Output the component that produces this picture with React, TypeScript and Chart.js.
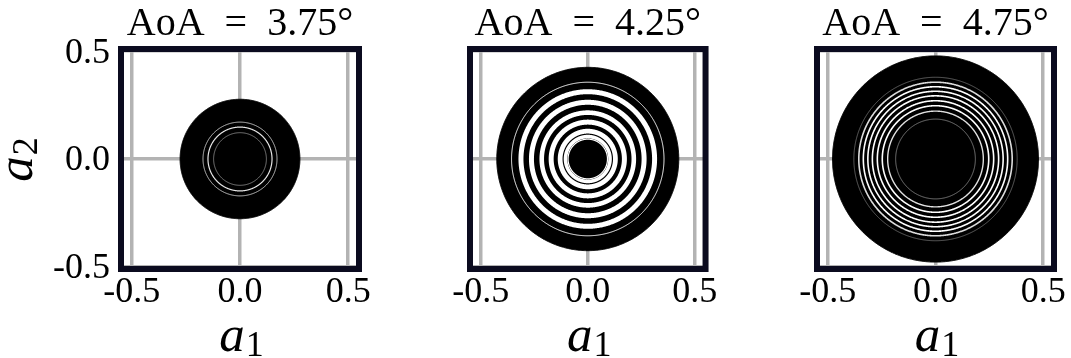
import React, { useEffect, useRef } from 'react';
import { Chart, registerables } from 'chart.js';

Chart.register(...registerables);

// ---------- data ----------
const panelTitles = ['AoA\u2002=\u20023.75°', 'AoA\u2002=\u20024.25°', 'AoA\u2002=\u20024.75°'];
const tickValues = [-0.5, 0, 0.5];
const tickLabels = ['-0.5', '0.0', '0.5'];
const xRange = [-0.55, 0.55];
const yRange = [-0.51, 0.51];
// outer radius of the limit-cycle (black disk) in each panel
const limitCycleRadius = [0.277, 0.425, 0.478];
// radii of the white gaps between spiral turns
const gapRadiiA = [0.171, 0.148, 0.122];
const gapRadiiB = [0.356, 0.312, 0.263, 0.215, 0.171, 0.129, 0.104, 0.092];
const gapRadiiC = [0.379, 0.356, 0.335, 0.314, 0.293, 0.27, 0.247, 0.222, 0.185];
const xAxisLabel = ['a', '1'];
const yAxisLabel = ['a', '2'];

// ---------- styles ----------
const SERIF = '"Liberation Serif", "Times New Roman", serif';
const GRID = '#b3b3b3';
const FRAME = '#0b0b1f';
const gapWidthsA = [1, 1.2, 0.9];
const gapColorsA = ['#d0d0d0', '#e6e6e6', '#8c8c8c'];
const gapWidthsB = [1, 5, 5, 4.6, 5, 4.8, 3.6, 1.2, 0.8];
const gapColorsB = ['#ffffff', '#ffffff', '#ffffff', '#ffffff', '#ffffff', '#ffffff', '#ffffff', '#ffffff', '#9a9a9a'];
const gapWidthsC = [0.9, 1.6, 1.6, 1.6, 1.6, 1.6, 1.6, 1.4, 0.9];
const gapColorsC = ['#6a6a6a', '#dcdcdc', '#ffffff', '#ffffff', '#ffffff', '#ffffff', '#ffffff', '#e0e0e0', '#8a8a8a'];

const gapRadii = [gapRadiiA, gapRadiiB, gapRadiiC];
const gapWidths = [gapWidthsA, gapWidthsB, gapWidthsC];
const gapColors = [gapColorsA, gapColorsB, gapColorsC];

const panels = [
  { left: 0, width: 380, axisLeft: 121, padRight: 21, showY: true },
  { left: 380, width: 340, axisLeft: 90, padRight: 13, showY: false },
  { left: 720, width: 351, axisLeft: 97, padRight: 17, showY: false },
];

function ring(r: number) {
  const pts: { x: number; y: number }[] = [];
  const n = 360;
  for (let i = 0; i <= n; i++) {
    const t = (i / n) * 2 * Math.PI;
    pts.push({ x: r * Math.cos(t), y: r * Math.sin(t) });
  }
  return pts;
}

function labelFor(v: number) {
  const i = tickValues.findIndex((t) => Math.abs(t - v) < 1e-9);
  return i >= 0 ? tickLabels[i] : '';
}

function drawSubLabel(ctx: CanvasRenderingContext2D, parts: string[], cx: number, baseline: number) {
  ctx.font = `italic 51px ${SERIF}`;
  const wa = ctx.measureText(parts[0]).width;
  ctx.font = `36px ${SERIF}`;
  const w1 = ctx.measureText(parts[1]).width;
  const start = cx - (wa + w1) / 2;
  ctx.textBaseline = 'alphabetic';
  ctx.textAlign = 'left';
  ctx.font = `italic 51px ${SERIF}`;
  ctx.fillText(parts[0], start, baseline);
  ctx.font = `36px ${SERIF}`;
  ctx.fillText(parts[1], start + wa + 1, baseline + 5);
}

function makeFramePlugin(showY: boolean) {
  return {
    id: 'frameAndLabels',
    afterDraw(chart: any) {
      const { ctx, chartArea: a } = chart;
      ctx.save();
      ctx.strokeStyle = FRAME;
      ctx.lineWidth = 6;
      ctx.lineJoin = 'miter';
      ctx.strokeRect(a.left, a.top, a.right - a.left, a.bottom - a.top);
      ctx.fillStyle = '#000';
      drawSubLabel(ctx, xAxisLabel, (a.left + a.right) / 2 + 1, 351);
      if (showY) {
        ctx.save();
        ctx.translate(32, (a.top + a.bottom) / 2 + 1);
        ctx.rotate(-Math.PI / 2);
        drawSubLabel(ctx, yAxisLabel, 0, 0);
        ctx.restore();
      }
      ctx.restore();
    },
  };
}

function Panel({ idx }: { idx: number }) {
  const ref = useRef<HTMLCanvasElement | null>(null);
  const p = panels[idx];
  useEffect(() => {
    if (!ref.current) return;
    const datasets: any[] = [
      {
        data: ring(limitCycleRadius[idx]),
        showLine: true,
        borderColor: '#000',
        borderWidth: 1,
        backgroundColor: '#000',
        pointRadius: 0,
        tension: 0.1,
        fill: 'shape',
        order: 10,
      },
    ];
    gapRadii[idx].forEach((r, i) => {
      datasets.push({
        data: ring(r),
        showLine: true,
        borderColor: gapColors[idx][i],
        borderWidth: gapWidths[idx][i],
        pointRadius: 0,
        tension: 0.1,
        fill: false,
        order: 0,
      });
    });
    const tickFont = { family: SERIF, size: 36, weight: 'normal' as const, lineHeight: 1.2 };
    const chart = new Chart(ref.current, {
      type: 'scatter',
      data: { datasets },
      options: {
        animation: false,
        responsive: false,
        events: [],
        layout: { padding: { left: 0, right: p.padRight, top: 0, bottom: 0 } },
        plugins: {
          legend: { display: false },
          tooltip: { enabled: false },
          title: {
            display: true,
            text: panelTitles[idx],
            fullSize: false,
            color: '#000',
            font: { family: SERIF, size: 40, weight: 'normal', lineHeight: 1.2 },
            padding: { top: 0, bottom: 1 },
          },
        },
        scales: {
          x: {
            type: 'linear',
            min: xRange[0],
            max: xRange[1],
            afterBuildTicks: (s: any) => {
              s.ticks = tickValues.map((v) => ({ value: v }));
            },
            afterFit: (s: any) => {
              s.height = 89;
            },
            ticks: {
              autoSkip: false,
              maxRotation: 0,
              minRotation: 0,
              padding: 2,
              color: '#000',
              font: tickFont,
              callback: (v: any) => labelFor(Number(v)),
            },
            grid: { color: GRID, lineWidth: 3.5, drawTicks: false },
            border: { display: false },
          },
          y: {
            type: 'linear',
            min: yRange[0],
            max: yRange[1],
            afterBuildTicks: (s: any) => {
              s.ticks = tickValues.map((v) => ({ value: v }));
            },
            afterFit: (s: any) => {
              s.width = p.axisLeft;
            },
            ticks: {
              display: p.showY,
              autoSkip: false,
              padding: 11,
              labelOffset: 2,
              color: '#000',
              font: tickFont,
              callback: (v: any) => labelFor(Number(v)),
            },
            grid: { color: GRID, lineWidth: 3.5, drawTicks: false },
            border: { display: false },
          },
        },
      } as any,
      plugins: [makeFramePlugin(p.showY)],
    });
    return () => chart.destroy();
  }, [idx]);
  return (
    <canvas
      ref={ref}
      width={p.width}
      height={358}
      style={{ position: 'absolute', left: p.left, top: 0, width: p.width, height: 358 }}
    />
  );
}

export default function App() {
  return (
    <div style={{ position: 'absolute', left: 0, top: 0, width: 1071, height: 358, background: '#fff', overflow: 'hidden' }}>
      {panels.map((_, i) => (
        <Panel key={i} idx={i} />
      ))}
    </div>
  );
}
